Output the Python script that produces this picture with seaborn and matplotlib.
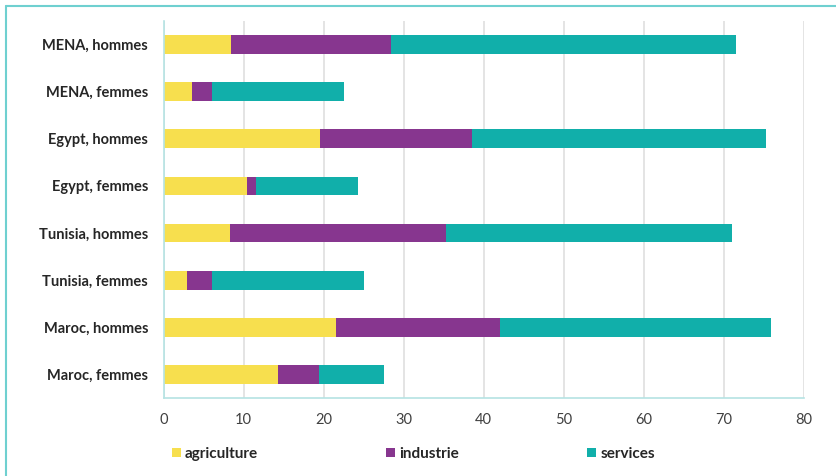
"""Emploi par secteur: barres horizontales empilées (MENA, Egypte, Tunisie, Maroc)."""
import matplotlib
matplotlib.use("Agg")

import matplotlib.pyplot as plt
from matplotlib.lines import Line2D
from matplotlib.patches import Patch
import numpy as np
import pandas as pd
import seaborn as sns

# ---------------------------------------------------------------------------
# Data (top to bottom)
# ---------------------------------------------------------------------------
categories = [
    "MENA, hommes", "MENA, femmes",
    "Egypt, hommes", "Egypt, femmes",
    "Tunisia, hommes", "Tunisia, femmes",
    "Maroc, hommes", "Maroc, femmes",
]
agriculture = [8.4, 3.6, 19.6, 10.4, 8.3, 2.9, 21.6, 14.3]
industrie = [20.0, 2.4, 18.9, 1.1, 27.0, 3.2, 20.4, 5.1]
services = [43.2, 16.5, 36.8, 12.8, 35.8, 19.0, 33.9, 8.2]

series_names = ["agriculture", "industrie", "services"]
colors = {"agriculture": "#F7DF4E", "industrie": "#87368F", "services": "#11AFAA"}

df = pd.DataFrame({
    "pays": categories,
    "agriculture": agriculture,
    "industrie": industrie,
    "services": services,
})
# cumulative ends for stacking (draw longest first, shorter ones on top)
df["cum_agri"] = df["agriculture"]
df["cum_ind"] = df["cum_agri"] + df["industrie"]
df["cum_serv"] = df["cum_ind"] + df["services"]

# ---------------------------------------------------------------------------
# Plot
# ---------------------------------------------------------------------------
sns.set_theme(style="white")
plt.rcParams["font.family"] = ["Lato", "DejaVu Sans"]

fig = plt.figure(figsize=(8.37, 4.76), dpi=100)
ax = fig.add_axes([163.5 / 837, 1 - 398 / 476, (803.7 - 163.5) / 837, (398 - 21) / 476])

for col, name in [("cum_serv", "services"), ("cum_ind", "industrie"), ("cum_agri", "agriculture")]:
    sns.barplot(data=df, x=col, y="pays", order=categories, color=colors[name],
                width=0.4, saturation=1, linewidth=0, ax=ax)

ax.set_xlim(0, 80)
ax.set_xticks(np.arange(0, 81, 10))
ax.set_ylim(7.5, -0.5)
ax.set_xlabel("")
ax.set_ylabel("")
ax.grid(axis="x", color="#dcdcdc", linewidth=1.1)
ax.set_axisbelow(True)
for side in ["top", "right"]:
    ax.spines[side].set_visible(False)
for side in ["left", "bottom"]:
    ax.spines[side].set_color("#b5e3e3")
    ax.spines[side].set_linewidth(1.2)
ax.tick_params(axis="x", length=0, pad=11, labelsize=10.5, labelcolor="#404040")
ax.tick_params(axis="y", length=0, pad=11, labelsize=10.5, labelcolor="#262626")
for lbl in ax.get_yticklabels():
    lbl.set_fontweight("bold")

handles = [Patch(facecolor=colors[n], edgecolor="none", label=n) for n in series_names]
fig.legend(handles=handles, loc="center left", bbox_to_anchor=(158 / 837, 1 - 454 / 476),
           ncol=3, frameon=False, handlelength=0.6, handleheight=0.6,
           handletextpad=0.25, columnspacing=8.4,
           prop={"weight": "bold", "size": 11})
for t in fig.legends[0].get_texts():
    t.set_color("#262626")

# outer frame (top and left only)
fig.add_artist(Line2D([6 / 837, 1], [1 - 5.5 / 476] * 2, color="#6fd0d0", lw=1.5))
fig.add_artist(Line2D([6 / 837] * 2, [0, 1 - 5.5 / 476], color="#6fd0d0", lw=1.5))

fig.savefig("out.png", dpi=100)
plt.close(fig)
